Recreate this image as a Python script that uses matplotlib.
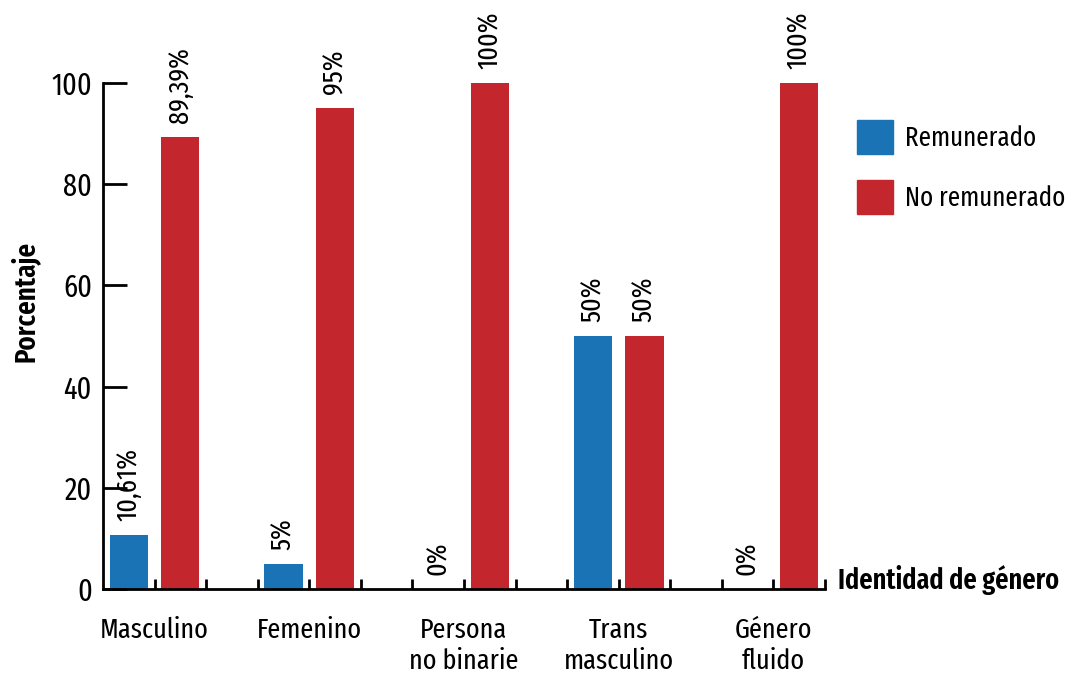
from matplotlib import pyplot as plt
from matplotlib.patches import Patch
from matplotlib.transforms import blended_transform_factory

plt.rcParams['font.family'] = ['Fira Sans Extra Condensed', 'DejaVu Sans']
plt.rcParams['font.stretch'] = 'condensed'

categorias = ['Masculino', 'Femenino', 'Persona\nno binarie', 'Trans\nmasculino', 'Género\nfluido']
remunerado = [10.61, 5, 0, 50, 0]
no_remunerado = [89.39, 95, 100, 50, 100]
etq_rem = ['10,61%', '5%', '0%', '50%', '0%']
etq_norem = ['89,39%', '95%', '100%', '50%', '100%']

azul = '#1a73b5'
rojo = '#c4262d'
fs = 21

fig = plt.figure(figsize=(10.66, 6.75), dpi=100)
ax = fig.add_axes([103 / 1066, 86 / 675, 722 / 1066, 506 / 675])

pos = [3 * i for i in range(len(categorias))]
x_rem = [p + 0.5 for p in pos]
x_norem = [p + 1.5 for p in pos]
ax.bar(x_rem, remunerado, width=0.74, color=azul)
ax.bar(x_norem, no_remunerado, width=0.74, color=rojo)

# etiquetas de valor, giradas
for x, v, t in zip(x_rem + x_norem, remunerado + no_remunerado, etq_rem + etq_norem):
    ax.annotate(t, (x, v), xytext=(0, 10), textcoords='offset points',
                rotation=90, ha='center', va='bottom', fontsize=fs - 0.5, clip_on=False)

ax.set_xlim(0, 14)
ax.set_ylim(0, 100)
ax.set_yticks([0, 20, 40, 60, 80, 100])
ax.set_xticks(range(1, 15))
ax.set_xticklabels([])
ax.tick_params(axis='y', direction='in', length=17, width=2, labelsize=fs + 1, pad=8)
ax.tick_params(axis='x', direction='in', length=7, width=2)
for s in ['top', 'right']:
    ax.spines[s].set_visible(False)
for s in ['left', 'bottom']:
    ax.spines[s].set_linewidth(2)

tr = blended_transform_factory(ax.transData, ax.transAxes)
for p, c in zip(pos, categorias):
    ax.text(p + 1, -0.055, c, transform=tr, ha='center', va='top',
            fontsize=fs - 0.5, linespacing=1.22)

fig.text(25 / 1066, 1 - 301 / 675, 'Porcentaje', rotation=90, fontsize=fs,
         fontweight='semibold', ha='center', va='center')
fig.text(838 / 1066, 1 - 580 / 675, 'Identidad de género', fontsize=fs - 0.5,
         fontweight='semibold', ha='left', va='center')

handles = [Patch(color=azul), Patch(color=rojo)]
fig.legend(handles, ['Remunerado', 'No remunerado'], loc='upper left',
           bbox_to_anchor=(857 / 1066, 1 - 120 / 675), frameon=False,
           fontsize=fs - 1.5, handlelength=1.33, handleheight=1.55,
           labelspacing=0.98, handletextpad=0.45, borderaxespad=0, borderpad=0)

fig.savefig('out.png', dpi=100)
